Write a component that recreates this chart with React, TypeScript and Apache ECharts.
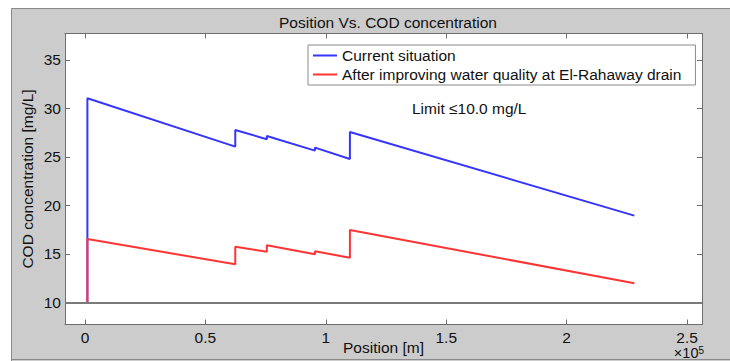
import React, { useEffect, useRef } from "react";
import * as echarts from "echarts";

// Data
const positions = [1000, 1000, 62400, 62400, 75500, 75500, 95500, 95500, 110000, 110000, 228100];
const currentCOD = [10, 31.05, 26.06, 27.78, 26.82, 27.16, 25.65, 25.96, 24.79, 27.57, 18.94];
const improvedCOD = [10, 16.53, 13.92, 15.74, 15.22, 15.88, 14.95, 15.26, 14.6, 17.46, 11.96];
const xTicks = [0, 50000, 100000, 150000, 200000, 250000];
const yTicks = [10, 15, 20, 25, 30, 35];
const limitValue = 10;
const seriesNames = ["Current situation", "After improving water quality at El-Rahaway drain"];

const FONT = "'Liberation Sans', Arial, Helvetica, sans-serif";
const FS = 15.5;
const AXIS_COLOR = "#6e6e6e";

export default function App() {
  const ref = useRef<HTMLDivElement>(null);
  useEffect(() => {
    if (!ref.current) return;
    const chart = echarts.init(ref.current, null, { renderer: "svg" });
    const xMin = -8300, xMax = 256200, yMin = 7.71, yMax = 37.73;
    const tickCommon = { show: true, inside: true, length: 5, lineStyle: { color: AXIS_COLOR, width: 1 } };
    const lineCommon = { show: true, onZero: false, lineStyle: { color: AXIS_COLOR, width: 1 } };
    const option: any = {
      animation: false,
      backgroundColor: "#cccccc",
      textStyle: { fontFamily: FONT },
      title: {
        text: "Position Vs. COD concentration",
        left: 383,
        top: 9,
        textAlign: "center",
        textStyle: { fontFamily: FONT, fontSize: FS, fontWeight: "normal", color: "#111" },
      },
      grid: {
        left: 65,
        top: 33.5,
        width: 637,
        height: 291,
        show: true,
        backgroundColor: "#ffffff",
        borderWidth: 0,
        containLabel: false,
        outerBoundsMode: "none",
      },
      legend: {
        orient: "vertical",
        left: 308,
        top: 45,
        data: seriesNames,
        icon: "rect",
        itemWidth: 24,
        itemHeight: 2,
        itemGap: 0,
        padding: [1, 14, 1, 5],
        backgroundColor: "#ffffff",
        borderColor: "#8a8a8a",
        borderWidth: 1,
        textStyle: { fontFamily: FONT, fontSize: FS, color: "#111", lineHeight: 19 },
      },
      xAxis: [
        {
          type: "value",
          min: xMin,
          max: xMax,
          position: "bottom",
          axisLine: lineCommon,
          axisTick: { ...tickCommon, customValues: xTicks },
          axisLabel: {
            customValues: xTicks,
            formatter: (v: number) => String(v / 100000),
            fontFamily: FONT,
            fontSize: FS,
            color: "#111",
            margin: 5,
          },
          splitLine: { show: false },
          name: "Position [m]",
          nameLocation: "middle",
          nameGap: 15,
          nameMoveOverlap: false,
          nameTextStyle: { fontFamily: FONT, fontSize: FS, color: "#111" },
        },
        {
          type: "value",
          min: xMin,
          max: xMax,
          position: "top",
          axisLine: lineCommon,
          axisTick: { ...tickCommon, customValues: xTicks },
          axisLabel: { show: false },
          splitLine: { show: false },
        },
      ],
      yAxis: [
        {
          type: "value",
          min: yMin,
          max: yMax,
          position: "left",
          axisLine: lineCommon,
          axisTick: { ...tickCommon, customValues: yTicks },
          axisLabel: { customValues: yTicks, fontFamily: FONT, fontSize: FS, color: "#111", margin: 4 },
          splitLine: { show: false },
          name: "COD concentration [mg/L]",
          nameLocation: "middle",
          nameGap: 30,
          nameMoveOverlap: false,
          nameTextStyle: { fontFamily: FONT, fontSize: FS, color: "#111" },
        },
        {
          type: "value",
          min: yMin,
          max: yMax,
          position: "right",
          axisLine: lineCommon,
          axisTick: { ...tickCommon, customValues: yTicks },
          axisLabel: { show: false },
          splitLine: { show: false },
        },
      ],
      series: [
        {
          name: seriesNames[0],
          type: "line",
          data: positions.map((x, i) => [x, currentCOD[i]]),
          showSymbol: false,
          symbol: "none",
          lineStyle: { color: "#3535ff", width: 2 },
          itemStyle: { color: "#3535ff" },
          z: 3,
          markLine: {
            silent: true,
            symbol: "none",
            label: { show: false },
            lineStyle: { color: "#7a7a7a", width: 2, type: "solid" },
            data: [{ yAxis: limitValue }],
          },
        },
        {
          name: seriesNames[1],
          type: "line",
          data: positions.map((x, i) => [x, improvedCOD[i]]),
          showSymbol: false,
          symbol: "none",
          lineStyle: { color: "#ff3535", width: 2 },
          itemStyle: { color: "#ff3535" },
          z: 4,
        },
      ],
      graphic: [
        { type: "rect", shape: { x: 0, y: 0, width: 730, height: 8 }, style: { fill: "#ffffff" }, silent: true },
        { type: "rect", shape: { x: 0, y: 0, width: 11, height: 361 }, style: { fill: "#ffffff" }, silent: true },
        {
          type: "polyline",
          shape: { points: [[11.5, 361], [11.5, 8.5], [730, 8.5]] },
          style: { stroke: "#8a8a8a", lineWidth: 1, fill: null },
          silent: true,
        },
        {
          type: "line",
          shape: { x1: 11, y1: 359.5, x2: 730, y2: 359.5 },
          style: { stroke: "#8a8a8a", lineWidth: 1 },
          silent: true,
        },
        {
          type: "text",
          x: 412,
          y: 108,
          style: {
            text: "Limit \u226410.0 mg/L",
            fontFamily: FONT,
            fontSize: FS,
            fill: "#111",
            verticalAlign: "middle",
            align: "left",
          },
        },
        {
          type: "text",
          x: 704,
          y: 353,
          style: {
            text: "\u00d710{s|5}",
            rich: { s: { fontSize: 10, verticalAlign: "top", padding: [0, 0, 6, 0], fontFamily: FONT, fill: "#111" } },
            fontFamily: FONT,
            fontSize: FS - 1,
            fill: "#111",
            align: "right",
            verticalAlign: "middle",
          },
        },
      ],
    };
    chart.setOption(option);
    return () => chart.dispose();
  }, []);
  return (
    <div
      ref={ref}
      style={{ position: "fixed", left: 0, top: 0, width: 730, height: 361 }}
    />
  );
}
